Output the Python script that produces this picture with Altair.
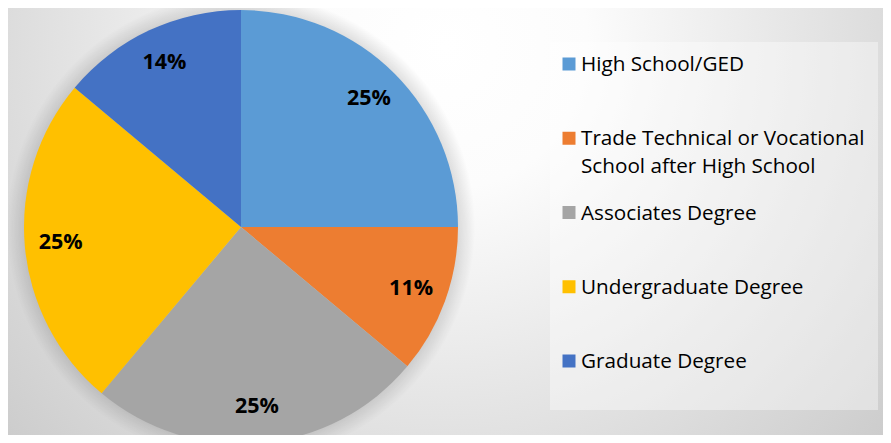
import altair as alt
import pandas as pd

# ---- data ----
categories = [
    "High School/GED",
    "Trade Technical or Vocational School after High School",
    "Associates Degree",
    "Undergraduate Degree",
    "Graduate Degree",
]
shares = [25.0, 11.1, 25.0, 25.0, 13.9]
pct_labels = ["25%", "11%", "25%", "25%", "14%"]
legend_labels = [
    "High School/GED",
    "Trade Technical or Vocational\nSchool after High School",
    "Associates Degree",
    "Undergraduate Degree",
    "Graduate Degree",
]
colors = ["#5B9BD5", "#ED7D31", "#A5A5A5", "#FFC000", "#4472C4"]

# ---- layout ----
W, H = 875, 427
CX, CY, R = 233, 219, 217
FONT = "Open Sans"

df = pd.DataFrame({
    "category": categories,
    "share": shares,
    "pct": pct_labels,
    "legend": legend_labels,
    "order": list(range(len(categories))),
})
one = pd.DataFrame({"k": [0]})

color_scale = alt.Scale(domain=categories, range=colors)

bg = alt.Chart(one).mark_rect(
    fill=alt.Gradient(
        gradient="radial",
        stops=[
            alt.GradientStop(color="#ffffff", offset=0),
            alt.GradientStop(color="#fcfcfc", offset=0.22),
            alt.GradientStop(color="#c6c6c6", offset=1),
        ],
        x1=0.5, y1=0.3, r1=0, x2=0.5, y2=0.3, r2=0.74,
    )
).encode(x=alt.value(0), x2=alt.value(W), y=alt.value(0), y2=alt.value(H))

legend_box = alt.Chart(one).mark_rect(fill="#ffffff", opacity=0.38).encode(
    x=alt.value(542), x2=alt.value(870), y=alt.value(34), y2=alt.value(402)
)

shadow = alt.Chart(one).mark_arc(
    theta=0, theta2=6.2832, radius=234,
    fill=alt.Gradient(
        gradient="radial",
        stops=[
            alt.GradientStop(color="rgba(0,0,0,0.16)", offset=0),
            alt.GradientStop(color="rgba(0,0,0,0.16)", offset=0.9),
            alt.GradientStop(color="rgba(0,0,0,0)", offset=1),
        ],
        x1=0.5, y1=0.5, r1=0, x2=0.5, y2=0.5, r2=0.5,
    ),
).encode(x=alt.value(CX), y=alt.value(CY))

pie = alt.Chart(df).mark_arc(radius=R).encode(
    theta=alt.Theta("share:Q", stack=True),
    color=alt.Color("category:N", scale=color_scale, legend=None),
    order=alt.Order("order:Q"),
    x=alt.value(CX),
    y=alt.value(CY),
)

labels = alt.Chart(df).mark_text(
    radius=181, font=FONT, fontSize=21.5, fontWeight="bold", color="#000000"
).encode(
    theta=alt.Theta("share:Q", stack=True),
    order=alt.Order("order:Q"),
    text="pct:N",
    x=alt.value(CX),
    y=alt.value(CY),
)

row_y = alt.Y(
    "category:N",
    scale=alt.Scale(domain=categories, type="point", range=[56, 353], padding=0),
    axis=None,
)

leg_sq = alt.Chart(df).mark_square(size=169, filled=True, opacity=1).encode(
    x=alt.value(561),
    y=row_y,
    color=alt.Color("category:N", scale=color_scale, legend=None),
)

leg_txt = alt.Chart(df).mark_text(
    align="left", baseline="alphabetic", dy=7, lineBreak="\n", lineHeight=28,
    font=FONT, fontSize=20.7, color="#000000",
).encode(
    x=alt.value(573),
    y=row_y,
    text="legend:N",
)

chart = alt.layer(bg, legend_box, shadow, pie, labels, leg_sq, leg_txt).properties(
    width=W, height=H, padding=0, autosize=alt.AutoSizeParams(type="none"),
    background="#ffffff",
).configure_view(stroke=None)

chart.save("out.html", embed_options={"renderer": "svg", "actions": False})
